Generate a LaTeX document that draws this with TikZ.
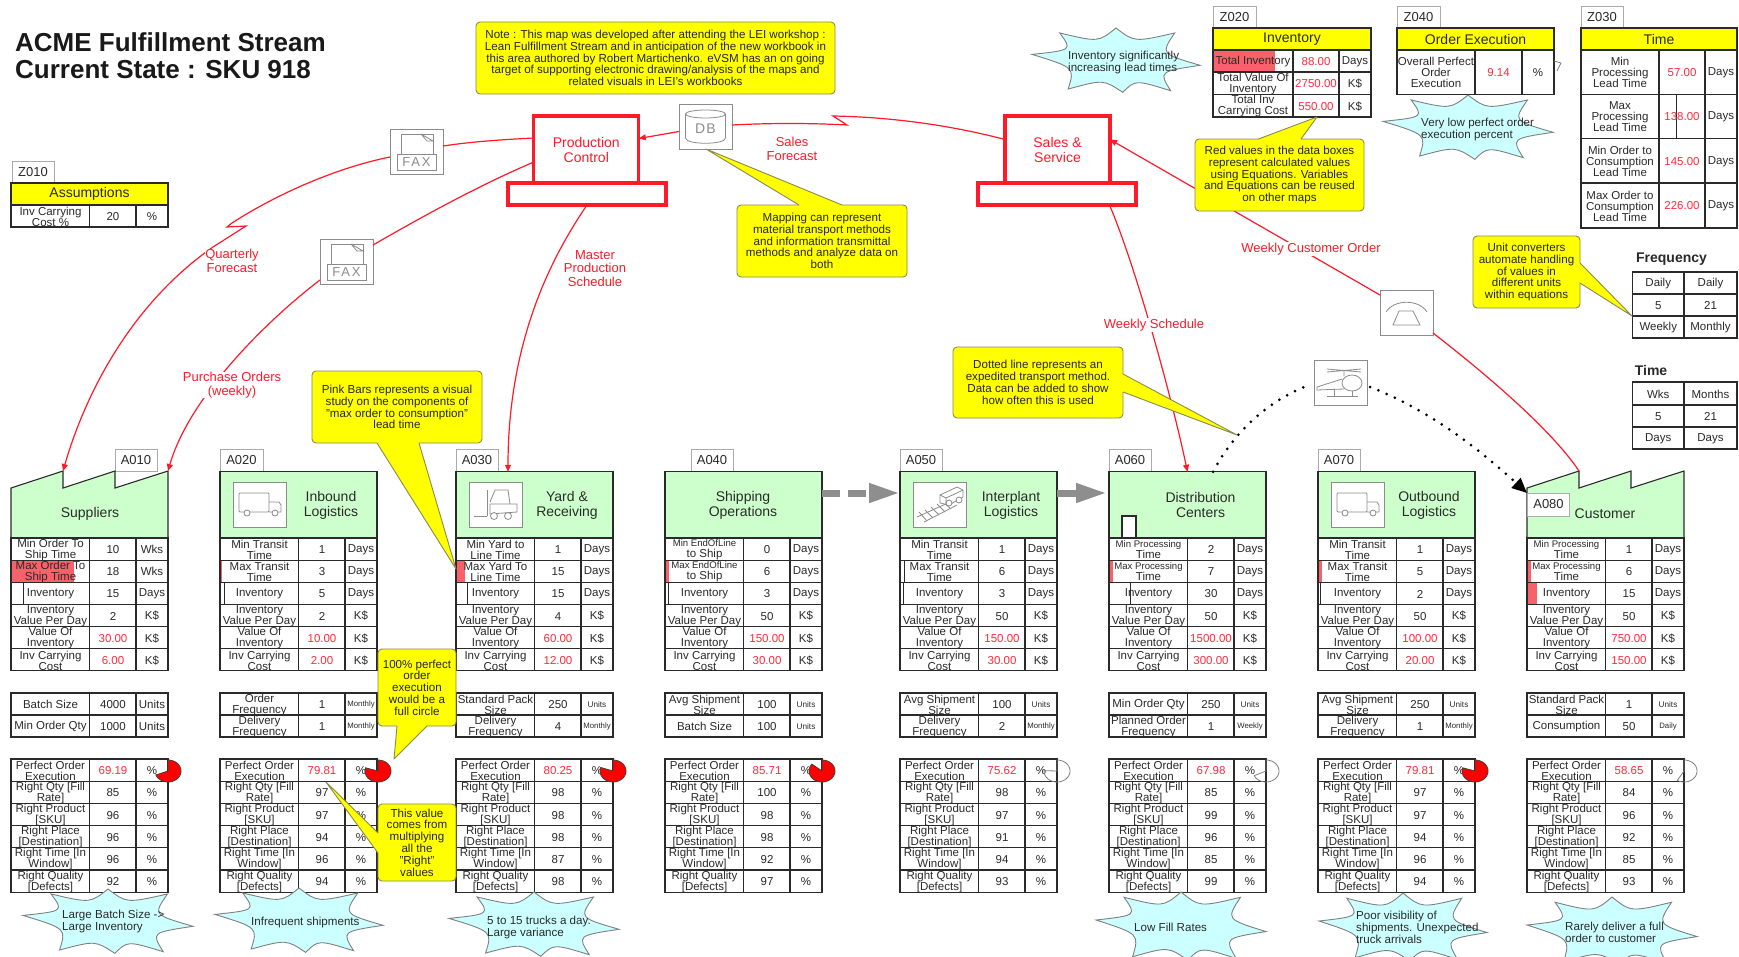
\documentclass[tikz,border=0pt]{standalone}
\usepackage{fontspec}
\setmainfont{Liberation Sans}
\usetikzlibrary{arrows.meta}
\definecolor{txt}{HTML}{2A2A2A}
\definecolor{valred}{HTML}{FF2A3C}
\definecolor{flowred}{HTML}{FF1A2A}
\definecolor{hdrgreen}{HTML}{CCFFCC}
\definecolor{noteyel}{HTML}{FFFF00}
\definecolor{noteedge}{HTML}{8A8A50}
\definecolor{cloudc}{HTML}{CCFFFF}
\definecolor{cloudedge}{HTML}{808080}
\definecolor{tabedge}{HTML}{ABABAB}
\definecolor{iconline}{HTML}{8C8C8C}
\definecolor{barpink}{HTML}{F8606A}
\definecolor{blockgray}{HTML}{8E8E8E}
\newcommand\fs[2]{\fontsize{#1}{#2}\selectfont}
\newcommand\rv[1]{\textcolor{valred}{#1}}
\newcommand\smallab{\fs{9.6}{10.8}}
\newcommand\threel{\fs{11.5}{12}}
\newcommand\us[1]{{\fs{8.2}{9}#1}}
\newcommand\um[1]{{\fs{7.8}{9}#1}}
\tikzset{
 cell/.style={draw=txt,line width=1.1pt},
 lab/.style={font=\fs{11.5}{11},align=center,inner sep=0pt,text=txt},
 hdrbox/.style={draw=txt,line width=1.1pt,fill=hdrgreen,minimum width=157pt,minimum height=66.5pt,inner sep=0pt,outer sep=0pt},
 hdrtxt/.style={font=\fs{14}{15},align=center,inner sep=0pt,text=txt},
 yelhead/.style={draw=txt,line width=1.1pt,fill=noteyel,inner sep=0pt,outer sep=0pt,font=\fs{14}{15},text=txt},
 tabbox/.style={draw=tabedge,fill=white,line width=1pt,inner sep=0pt,outer sep=0pt,font=\fs{13}{13},text=txt},
 redbox/.style={draw=flowred,fill=white,line width=3.2pt,inner sep=0pt,outer sep=0pt,align=center,font=\fs{14}{15},text=flowred},
 flow/.style={draw=flowred,line width=1.2pt},
 tipf/.style={-{Triangle[length=7pt,width=6pt]}},
 flowlab/.style={font=\fs{13}{13.5},align=center,inner sep=0.5pt,text=flowred,fill=white},
 note/.style={draw=noteedge,fill=noteyel,line width=.9pt,rounded corners=4pt,inner sep=0pt,outer sep=0pt,align=center,font=\fs{11.6}{11.8},text=black!85},
 cloudtxt/.style={font=\fs{11.6}{12},align=left,anchor=west,inner sep=0pt,text=txt},
 iconbox/.style={draw=iconline,fill=white,line width=1pt,minimum width=53pt,minimum height=45pt,inner sep=0pt,outer sep=0pt},
 iconln/.style={draw=iconline,line width=.8pt},
 blockarrow/.style={draw=blockgray,line width=7pt},
 dotline/.style={draw=black,line width=3pt,line cap=round,dash pattern=on 0pt off 9pt},
}
\newcounter{cellc}
% one table row of three cells
\newcommand\Row[6]{\stepcounter{cellc}%
 \draw[cell] (#1,#2) rectangle (#1+157,#2+#3);
 \draw[cell] (#1+78.5,#2) -- ++(0,#3) (#1+125,#2) -- ++(0,#3);
 \node[lab] (L\thecellc) at (#1+39.5,#2+#3/2+.6) {#4};
 \node[lab] (V\thecellc) at (#1+102,#2+#3/2+.6) {#5};
 \node[lab] (U\thecellc) at (#1+141,#2+#3/2+.6) {#6};
}
\newcommand\Cell[5]{\stepcounter{cellc}%
 \draw[cell] (#1,#2) rectangle (#3,#4);
 \node[lab] (C\thecellc) at ({(#1+#3)/2},{(#2+#4)/2+.5}) {#5};
}
\newcommand\TblA[9]{%
 \Row{\X}{538}{22.15}{#1}{#4}{#3}
 \Row{\X}{560.15}{22.15}{#2}{#5}{#3}
 \Row{\X}{582.3}{22.15}{Inventory}{#6}{Days}
 \Row{\X}{604.45}{22.15}{Inventory\\Value Per Day}{#7}{K\$}
 \Row{\X}{626.6}{22.15}{Value Of\\Inventory}{\rv{#8}}{K\$}
 \Row{\X}{648.75}{22.15}{Inv Carrying\\Cost}{\rv{#9}}{K\$}
}
\newcommand\TblB[6]{%
 \Row{\X}{693}{22}{#1}{#2}{#3}
 \Row{\X}{715}{22}{#4}{#5}{#6}
}
\newcommand\TblC[6]{%
 \Row{\X}{759}{22.2}{Perfect Order\\Execution}{\rv{#1}}{\%}
 \Row{\X}{781.2}{22.2}{Right Qty [Fill\\Rate]}{#2}{\%}
 \Row{\X}{803.4}{22.2}{Right Product\\[0pt][SKU]}{#3}{\%}
 \Row{\X}{825.6}{22.2}{Right Place\\[0pt][Destination]}{#4}{\%}
 \Row{\X}{847.8}{22.2}{Right Time [In\\Window]}{#5}{\%}
 \Row{\X}{870}{22.2}{Right Quality\\[0pt][Defects]}{#6}{\%}
}
\newcommand\PinkBar[2]{\fill[barpink] (\X,#1) rectangle ++(#2,22.15);}
\newcommand\LineBar[2]{\draw[cell,line width=.9pt] (\X,#1) rectangle ++(#2,22.15);}
\newcommand\Pie[4]{\draw[fill=#3,draw=#4,line width=.8pt] (#1,771) -- plot[domain=0:#2,samples=50] ({#1+13*sin(\x)},{771-11*cos(\x)}) -- cycle;}
\newcommand\Tab[6]{\node[tabbox,minimum width=#4pt,minimum height=#5pt] (#1) at (#2,#3) {#6};}
\newcommand\Proc[3]{\node[hdrbox] (#1) at (#2+78.5,505) {};}
% eight-pointed burst
\newcommand\Burst[4]{\begin{scope}[shift={(#1,#2)},x=#3pt,y=-#4pt]
 \draw[draw=cloudedge,fill=cloudc,line width=.9pt]
 (-1,-.2) .. controls (-.52,-.33) .. (-.67,-.85) .. controls (-.21,-.57) .. (0,-1)
 .. controls (.22,-.57) .. (.7,-.85) .. controls (.53,-.22) .. (1,.13)
 .. controls (.51,.32) .. (.65,.9) .. controls (.23,.57) .. (.08,.95)
 .. controls (-.15,.56) .. (-.57,.85) .. controls (-.49,.2) .. (-1,-.2) -- cycle;
\end{scope}}
% callout pointer: base a, tip t, base b
\newcommand\Ptr[3]{\fill[noteyel] (#1) -- (#2) -- (#3) -- cycle;
 \draw[noteyel,line width=1.8pt] (#1) -- (#3);
 \draw[draw=noteedge,line width=.9pt,line join=round] (#1) -- (#2) -- (#3);}
\newcommand\TruckIcon[2]{\begin{scope}[shift={(#1,#2)}]
 \draw[iconln,rounded corners=1pt] (6,10) rectangle (36,29);
 \draw[iconln] (36,19) -- (46,19) -- (48,22) -- (48,29) -- (36,29);
 \draw[iconln,fill=white] (14,30) circle[radius=3];
 \draw[iconln,fill=white] (42,30) circle[radius=3];
\end{scope}}
\newcommand\FaxIcon[2]{\begin{scope}[shift={(#1,#2)}]
 \draw[iconln] (11,25) -- (11,5) -- (43,5) -- (43,25);
 \draw[iconln,fill=white] (31,5) -- (43,12) -- (37,12) -- (31,5);
 \draw[iconln] (7,25) rectangle (46,41);
\end{scope}}
\begin{document}
\begin{tikzpicture}[x=1pt,y=-1pt]
\useasboundingbox (0,0) rectangle (1739,956);
\clip (0,0) rectangle (1739,956);
\fill[white] (0,0) rectangle (1739,956);

% title
\node[font=\bfseries\fs{26}{27},align=left,anchor=west,inner sep=0pt,text=black!90] (title) at (15,56) {ACME Fulfillment Stream\\Current State : SKU 918};

% tabs
\Tab{a010tab}{136}{460}{42}{22}{A010}
\Tab{a020tab}{241.5}{460}{43}{22}{A020}
\Tab{a030tab}{477}{460}{42}{22}{A030}
\Tab{a040tab}{712}{460}{42}{22}{A040}
\Tab{a050tab}{921}{460}{42}{22}{A050}
\Tab{a060tab}{1130}{460}{42}{22}{A060}
\Tab{a070tab}{1339}{460}{42}{22}{A070}
\Tab{z010tab}{33}{172}{42}{22}{Z010}
\Tab{z020tab}{1234.5}{17}{43}{22}{Z020}
\Tab{z040tab}{1418.5}{17}{43}{22}{Z040}
\Tab{z030tab}{1602}{17}{42}{22}{Z030}

% process headers
\draw[cell,fill=hdrgreen] (11,488) -- (63,471) -- (63,488) -- (115,471) -- (115,488) -- (168,471) -- (168,538) -- (11,538) -- cycle;
\coordinate (a010r) at (168,471);
\coordinate (a010m) at (63,471);
\node[hdrtxt] (a010t) at (90,513.5) {Suppliers};
\Proc{a020}{220}{} \node[hdrtxt] (a020t) at (331,505) {Inbound\\Logistics};
\Proc{a030}{456}{} \node[hdrtxt] (a030t) at (567,505) {Yard \&\\Receiving};
\Proc{a040}{665}{} \node[hdrtxt] (a040t) at (743,505) {Shipping\\Operations};
\Proc{a050}{900}{} \node[hdrtxt] (a050t) at (1011,505) {Interplant\\Logistics};
\Proc{a060}{1109}{} \node[hdrtxt] (a060t) at (1200.5,505) {Distribution\\Centers};
\Proc{a070}{1318}{} \node[hdrtxt] (a070t) at (1429,505) {Outbound\\Logistics};
\draw[cell,fill=hdrgreen] (1527,488) -- (1579,471) -- (1579,488) -- (1631,471) -- (1631,488) -- (1684,471) -- (1684,538) -- (1527,538) -- cycle;
\coordinate (a080n) at (1579,471);
\coordinate (a080w) at (1527,493);
\node[hdrtxt] (a080t) at (1605,513.5) {Customer};
\Tab{a080tab}{1548.5}{504.5}{42}{23}{A080}
\draw[cell,fill=white] (1122,538) -- (1122,516) -- (1136,516) -- (1136,538);

% tables, first group
\def\X{11}\PinkBar{560.15}{63}\LineBar{582.3}{12}
\TblA{Min Order To\\Ship Time}{Max Order To\\Ship Time}{Wks}{10}{18}{15}{2}{30.00}{6.00}
\def\X{220}\PinkBar{560.15}{2}\LineBar{582.3}{4}
\TblA{Min Transit\\Time}{Max Transit\\Time}{Days}{1}{3}{5}{2}{10.00}{2.00}
\def\X{456}\PinkBar{560.15}{9}\LineBar{582.3}{11}
\TblA{Min Yard to\\Line Time}{Max Yard To\\Line Time}{Days}{1}{15}{15}{4}{60.00}{12.00}
\def\X{665}\PinkBar{560.15}{4}\LineBar{582.3}{3}
\TblA{\smallab Min EndOfLine\\to Ship}{\smallab Max EndOfLine\\to Ship}{Days}{0}{6}{3}{50}{150.00}{30.00}
\def\X{900}\LineBar{560.15}{4}\LineBar{582.3}{3}
\TblA{Min Transit\\Time}{Max Transit\\Time}{Days}{1}{6}{3}{50}{150.00}{30.00}
\def\X{1109}\PinkBar{560.15}{4}\LineBar{582.3}{21}
\TblA{\smallab Min Processing\\Time}{\smallab Max Processing\\Time}{Days}{2}{7}{30}{50}{1500.00}{300.00}
\def\X{1318}\PinkBar{560.15}{4}\LineBar{582.3}{2}
\TblA{Min Transit\\Time}{Max Transit\\Time}{Days}{1}{5}{2}{50}{100.00}{20.00}
\def\X{1527}\PinkBar{560.15}{4}\PinkBar{582.3}{10}
\TblA{\smallab Min Processing\\Time}{\smallab Max Processing\\Time}{Days}{1}{6}{15}{50}{750.00}{150.00}

% second group
\def\X{11}\TblB{Batch Size}{4000}{Units}{Min Order Qty}{1000}{Units}
\def\X{220}\TblB{Order\\Frequency}{1}{\um{Monthly}}{Delivery\\Frequency}{1}{\um{Monthly}}
\def\X{456}\TblB{Standard Pack\\Size}{250}{\us{Units}}{Delivery\\Frequency}{4}{\um{Monthly}}
\def\X{665}\TblB{Avg Shipment\\Size}{100}{\us{Units}}{Batch Size}{100}{\us{Units}}
\def\X{900}\TblB{Avg Shipment\\Size}{100}{\us{Units}}{Delivery\\Frequency}{2}{\um{Monthly}}
\def\X{1109}\TblB{Min Order Qty}{250}{\us{Units}}{Planned Order\\Frequency}{1}{\um{Weekly}}
\def\X{1318}\TblB{Avg Shipment\\Size}{250}{\us{Units}}{Delivery\\Frequency}{1}{\um{Monthly}}
\def\X{1527}\TblB{Standard Pack\\Size}{1}{\us{Units}}{Consumption}{50}{\um{Daily}}

% third group
\def\X{11}\TblC{69.19}{85}{96}{96}{96}{92}
\def\X{220}\TblC{79.81}{97}{97}{94}{96}{94}
\def\X{456}\TblC{80.25}{98}{98}{98}{87}{98}
\def\X{665}\TblC{85.71}{100}{98}{98}{92}{97}
\def\X{900}\TblC{75.62}{98}{97}{91}{94}{93}
\def\X{1109}\TblC{67.98}{85}{99}{96}{85}{99}
\def\X{1318}\TblC{79.81}{97}{97}{94}{96}{94}
\def\X{1527}\TblC{58.65}{84}{96}{92}{85}{93}

% pies
\Pie{168}{249}{red}{black!75}
\Pie{378}{287}{red}{black!75}
\Pie{613}{289}{red}{black!75}
\Pie{822}{309}{red}{black!75}
\Pie{1057}{272}{none}{black!50}
\Pie{1266}{245}{none}{black!50}
\Pie{1475}{287}{red}{black!75}
\Pie{1684}{211}{none}{black!50}

% Z tables
\node[yelhead,minimum width=157pt,minimum height=22pt] (z010h) at (89.5,194) {Assumptions};
\Row{11}{205}{22}{Inv Carrying\\Cost \%}{20}{\%}
\node[yelhead,minimum width=158pt,minimum height=22pt] (z020h) at (1292,39) {Inventory};
\fill[barpink] (1213,50) rectangle (1275,72);
\Cell{1213}{50}{1293}{72}{Total Inventory}\Cell{1293}{50}{1339}{72}{\rv{88.00}}\Cell{1339}{50}{1371}{72}{Days}
\Cell{1213}{72}{1293}{94.5}{Total Value Of\\Inventory}\Cell{1293}{72}{1339}{94.5}{\rv{2750.00}}\Cell{1339}{72}{1371}{94.5}{K\$}
\Cell{1213}{94.5}{1293}{117}{Total Inv\\Carrying Cost}\Cell{1293}{94.5}{1339}{117}{\rv{550.00}}\Cell{1339}{94.5}{1371}{117}{K\$}
\node[yelhead,minimum width=157pt,minimum height=22pt] (z040h) at (1475.5,39) {Order Execution};
\Cell{1397}{50}{1475}{94.5}{\threel Overall Perfect\\Order\\Execution}\Cell{1475}{50}{1522}{94.5}{\rv{9.14}}\Cell{1522}{50}{1554}{94.5}{\%}
\draw[draw=black!50,line width=.8pt] (1554,61) -- (1561,63) -- (1557,71);
\node[yelhead,minimum width=156pt,minimum height=22pt] (z030h) at (1659,39) {Time};
\Cell{1581}{50}{1659}{94.5}{\threel Min\\Processing\\Lead Time}\Cell{1659}{50}{1705}{94.5}{\rv{57.00}}\Cell{1705}{50}{1737}{94.5}{Days}
\draw[cell,line width=.9pt] (1659,94.5) rectangle (1676,138.5);
\Cell{1581}{94.5}{1659}{138.5}{\threel Max\\Processing\\Lead Time}\Cell{1659}{94.5}{1705}{138.5}{\rv{138.00}}\Cell{1705}{94.5}{1737}{138.5}{Days}
\Cell{1581}{138.5}{1659}{183}{\threel Min Order to\\Consumption\\Lead Time}\Cell{1659}{138.5}{1705}{183}{\rv{145.00}}\Cell{1705}{138.5}{1737}{183}{Days}
\Cell{1581}{183}{1659}{228}{\threel Max Order to\\Consumption\\Lead Time}\Cell{1659}{183}{1705}{228}{\rv{226.00}}\Cell{1705}{183}{1737}{228}{Days}

% unit converters
\node[font=\bfseries\fs{14}{14},inner sep=0pt,text=txt] (freq) at (1671.5,259) {Frequency};
\Cell{1632.5}{272}{1684}{294}{Daily}\Cell{1684}{272}{1737}{294}{Daily}
\Cell{1632.5}{294}{1684}{316}{5}\Cell{1684}{294}{1737}{316}{21}
\Cell{1632.5}{316}{1684}{338}{Weekly}\Cell{1684}{316}{1737}{338}{Monthly}
\node[font=\bfseries\fs{14}{14},inner sep=0pt,text=txt] (timet) at (1651,370) {Time};
\Cell{1632.5}{382}{1684}{405}{Wks}\Cell{1684}{382}{1737}{405}{Months}
\Cell{1632.5}{405}{1684}{427}{5}\Cell{1684}{405}{1737}{427}{21}
\Cell{1632.5}{427}{1684}{449}{Days}\Cell{1684}{427}{1737}{449}{Days}

% red information boxes
\node[redbox,minimum width=105pt,minimum height=67pt] (pc) at (586.3,149.5) {Production\\Control};
\node[redbox,minimum width=158pt,minimum height=22pt] (pcb) at (587,194) {};
\node[redbox,minimum width=105pt,minimum height=67pt] (ss) at (1057.5,149.5) {Sales \&\\Service};
\node[redbox,minimum width=158pt,minimum height=22pt] (ssb) at (1057,194) {};

% icon boxes
\node[iconbox] (fax1) at (416.5,151.5) {};
\node[iconbox] (fax2) at (346.5,261.5) {};
\node[iconbox] (db) at (705.5,126.5) {};
\node[iconbox] (phone) at (1406.5,313) {};
\node[iconbox] (heli) at (1340.5,383) {};

% connectors
\draw[flow] ([yshift=11.5pt]pc.west) .. controls (495,140) and (470,142) .. ([yshift=5.5pt]fax1.east);
\draw[flow,tipf] ([yshift=-5.5pt]fax1.west) .. controls (340,167) and (280,192) .. (232,223) -- (227,227) -- (246,226) -- (213,247) .. controls (130,305) and (85,395) .. (a010m);
\draw[flow] ([yshift=-12.5pt]pc.west) .. controls (480,185) and (425,215) .. ([yshift=16.5pt]fax2.east);
\draw[flow,tipf] ([yshift=-18.5pt]fax2.west) .. controls (270,318) and (190,395) .. (a010r);
\draw[flow,tipf] (pcb.south) .. controls (560,245) and (508,330) .. ([xshift=-26.5pt]a030.north);
\draw[flow] ([yshift=10pt]ss.west) .. controls (950,125) and (890,117) .. (833,116) -- (847,125) .. controls (810,123) and (770,123) .. ([yshift=1.5pt]db.east);
\draw[flow,tipf] ([yshift=-5pt]db.west) -- ([yshift=11pt]pc.east);
\draw[flow] (a080n) .. controls (1555,435) and (1500,385) .. ([yshift=-20pt]phone.east);
\draw[flow,tipf] ([yshift=18pt]phone.west) -- ([yshift=10pt]ss.east);
\draw[flow,tipf] ([xshift=52.5pt]ssb.south) .. controls (1135,265) and (1170,390) .. (a060.north);
\draw[dotline] ([xshift=25.5pt]a060.north) .. controls (1235,430) and (1270,400) .. ([xshift=-5pt,yshift=-2pt]heli.west);
\draw[dotline,-{Triangle[length=15pt,width=13pt]}] ([xshift=3pt,yshift=-4pt]heli.east) .. controls (1430,410) and (1480,450) .. (a080w);
\draw[blockarrow,dash pattern=on 18pt off 8pt,-{Triangle[length=31pt,width=18pt]}] ([yshift=12pt]a040.east) -- ([yshift=12pt]a050.west);
\draw[blockarrow,-{Triangle[length=31pt,width=18pt,sep=2pt]}] ([yshift=12pt]a050.east) -- ([yshift=12pt]a060.west);

% flow labels
\node[flowlab] (lq) at (232,261) {Quarterly\\Forecast};
\node[flowlab] (lp) at (232,385) {Purchase Orders\\(weekly)};
\node[flowlab] (lm) at (595,268.5) {Master\\Production\\Schedule};
\node[flowlab] (ls) at (792,149) {Sales\\Forecast};
\node[flowlab] (lw) at (1311,249) {Weekly Customer Order};
\node[flowlab] (lk) at (1154,325) {Weekly Schedule};

% icon contents
\FaxIcon{390}{129}
\node[font=\fs{13}{14},text=iconline,inner sep=0pt] (faxt1) at (416.5,162) {\addfontfeature{LetterSpace=14}FAX};
\FaxIcon{320}{239}
\node[font=\fs{13}{14},text=iconline,inner sep=0pt] (faxt2) at (346.5,272) {\addfontfeature{LetterSpace=14}FAX};
\draw[iconln] (685.5,114) -- (685.5,138) .. controls (685.5,145) and (725.5,145) .. (725.5,138) -- (725.5,114);
\draw[iconln] (705.5,114) ellipse[x radius=20,y radius=4];
\node[font=\fs{14}{15},text=iconline,inner sep=0pt] (dbt) at (705.5,129) {\addfontfeature{LetterSpace=8}DB};
% phone
\begin{scope}[shift={(1380,291)}]
 \draw[iconln] (6,21) .. controls (14,8) and (39,8) .. (47,21);
 \draw[iconln] (13,34) -- (40,34) -- (33,20) -- (19,20) -- cycle;
\end{scope}
% helicopter
\begin{scope}[shift={(1314,361)}]
 \draw[iconln] (13,8) -- (47,11) (13,11) -- (47,8) (30,9.5) -- (30,15);
 \draw[iconln] (38,22) ellipse[x radius=10,y radius=8];
 \draw[iconln] (28,18) -- (3,26) -- (3,29) -- (30,28);
 \draw[iconln] (13,35) -- (44,35) (20,29) -- (20,35) (38,30) -- (38,35);
\end{scope}
% process icons
\node[iconbox] (ic20) at (259.5,505) {}; \TruckIcon{233}{483}
\node[iconbox] (ic70) at (1357.5,505) {}; \TruckIcon{1331}{483}
\node[iconbox] (ic30) at (495.5,505) {};
\begin{scope}[shift={(469,483)}]
 \draw[iconln] (18,7) -- (18,33) (5,33) -- (18,33);
 \draw[iconln] (21,19) -- (26,7) -- (39,7) -- (41,21);
 \draw[iconln] (21,21) -- (48,21) -- (48,29) -- (21,31) -- cycle;
 \draw[iconln,fill=white] (25,33) circle[radius=3.5];
 \draw[iconln,fill=white] (39,33) circle[radius=3.5];
\end{scope}
\node[iconbox] (ic50) at (939.5,505) {};
\begin{scope}[shift={(913,483)}]
 \draw[iconln] (4,34) -- (37,19) (11,39) -- (44,22);
 \draw[iconln] (6,29) -- (14,38) (12,27) -- (20,35) (18,24) -- (26,32) (24,21) -- (32,29) (30,19) -- (38,26);
 \draw[iconln,fill=white] (27,12) -- (44,4) -- (50,7) -- (50,14) -- (36,22) -- (27,20) -- cycle;
 \draw[iconln] (27,12) -- (33,15) -- (50,7) (33,15) -- (33,21);
 \draw[iconln,fill=white] (36,20) circle[radius=3];
 \draw[iconln,fill=white] (46,17) circle[radius=3];
\end{scope}

% bursts
\Burst{108}{922}{85}{33}
\node[cloudtxt] (c1) at (62,921) {Large Batch Size ->\\Large Inventory};
\Burst{299}{921}{84}{33}
\node[cloudtxt] (c2) at (251,922) {Infrequent shipments};
\Burst{534}{925}{85}{33}
\node[cloudtxt] (c3) at (487,927) {5 to 15 trucks a day.\\Large variance};
\Burst{1181}{927}{85}{35}
\node[cloudtxt] (c4) at (1134,927) {Low Fill Rates};
\Burst{1403}{928}{84}{35}
\node[cloudtxt] (c5) at (1356,927) {Poor visibility of\\shipments. Unexpected\\truck arrivals};
\Burst{1612}{932}{85}{35}
\node[cloudtxt] (c6) at (1565,932) {Rarely deliver a full\\order to customer};
\Burst{1116}{61}{84}{33}
\node[cloudtxt] (c7) at (1068,62) {Inventory significantly\\increasing lead times};
\Burst{1468}{128}{85}{33}
\node[cloudtxt] (c8) at (1421,129) {Very low perfect order\\execution percent};

% notes
\node[note,minimum width=359pt,minimum height=72pt] (n1) at (655.5,58) {Note : This map was developed after attending the LEI workshop :\\Lean Fulfillment Stream and in anticipation of the new workbook in\\this area authored by Robert Martichenko. eVSM has an on going\\target of supporting electronic drawing/analysis of the maps and\\related visuals in LEI's workbooks};
\node[note,minimum width=170pt,minimum height=72pt] (n2) at (822,241) {Mapping can represent\\material transport methods\\and information transmittal\\methods and analyze data on\\both};
\Ptr{799,205}{706,149}{842,205}
\node[note,minimum width=169pt,minimum height=72pt] (n3) at (1279.5,175) {Red values in the data boxes\\represent calculated values\\using Equations. Variables\\and Equations can be reused\\on other maps};
\Ptr{1258.5,139}{1317,117}{1301,139}
\node[note,minimum width=107pt,minimum height=72pt] (n4) at (1526.5,272) {Unit converters\\automate handling\\of values in\\different units\\within equations};
\Ptr{1580,263}{1632,316}{1580,283}
\node[note,minimum width=170pt,minimum height=72pt] (n5) at (397,407) {Pink Bars represents a visual\\study on the components of\\"max order to consumption"\\lead time};
\Ptr{377,443}{456,569}{419,443}
\node[note,minimum width=78pt,minimum height=77pt] (n6) at (417,687.5) {100\% perfect\\order\\execution\\would be a\\full circle};
\Ptr{397,726}{394,759}{427,726}
\node[note,minimum width=78pt,minimum height=77pt] (n7) at (417,842.5) {This value\\comes from\\multiplying\\all the\\"Right"\\values};
\Ptr{378,833}{326,782}{378,853}
\node[note,minimum width=170pt,minimum height=71pt] (n8) at (1038,382.5) {Dotted line represents an\\expedited transport method.\\Data can be added to show\\how often this is used};
\Ptr{1123,374}{1237,435}{1123,392}
\end{tikzpicture}
\end{document}
